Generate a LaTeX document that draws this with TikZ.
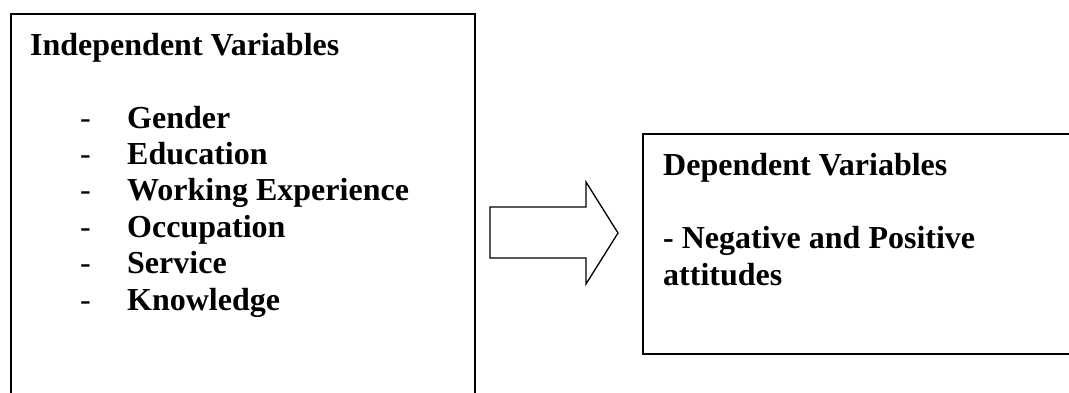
\documentclass[tikz,border=0pt]{standalone}
\usepackage{fontspec}
\setmainfont{Liberation Serif}
\begin{document}
\begin{tikzpicture}[x=1pt,y=-1pt,
  box/.style={draw=black, line width=1.7pt, rectangle, inner sep=0pt, anchor=north west},
  txt/.style={inner sep=0pt, anchor=base west, font=\fontsize{32}{36.4}\selectfont\bfseries},
  blockarrow/.style={draw=black, line width=1.3pt, line join=miter, fill=white}]
\useasboundingbox (0,0) rectangle (1069,392);
\clip (0,0) rectangle (1069,392);
\fill[white] (0,0) rectangle (1069,392);
% boxes
\node[box, minimum width=464pt, minimum height=420pt] (indep) at (10,13) {};
\node[box, minimum width=470pt, minimum height=220pt] (dep) at (642,133) {};
% texts in left box
\node[txt] (ti) at (30,55) {Independent Variables};
\foreach \y/\t [count=\i] in {128/Gender,164.4/Education,200.8/Working Experience,237.2/Occupation,273.6/Service,310/Knowledge}{
  \node[txt, font=\fontsize{32}{36.4}\selectfont] (d\i) at (80,\y) {-};
  \node[txt] (it\i) at (127,\y) {\t};
}
% texts in right box
\node[txt] (td) at (663,175) {Dependent Variables};
\node[txt] (tn) at (663,248) {- Negative and Positive};
\node[txt] (ta) at (663,285) {attitudes};
% block arrow
\coordinate (tip) at (618,233);
\draw[blockarrow] (490,207) -- (586,207) -- (586,182) -- (tip) -- (586,284) -- (586,258) -- (490,258) -- cycle;
\end{tikzpicture}
\end{document}
